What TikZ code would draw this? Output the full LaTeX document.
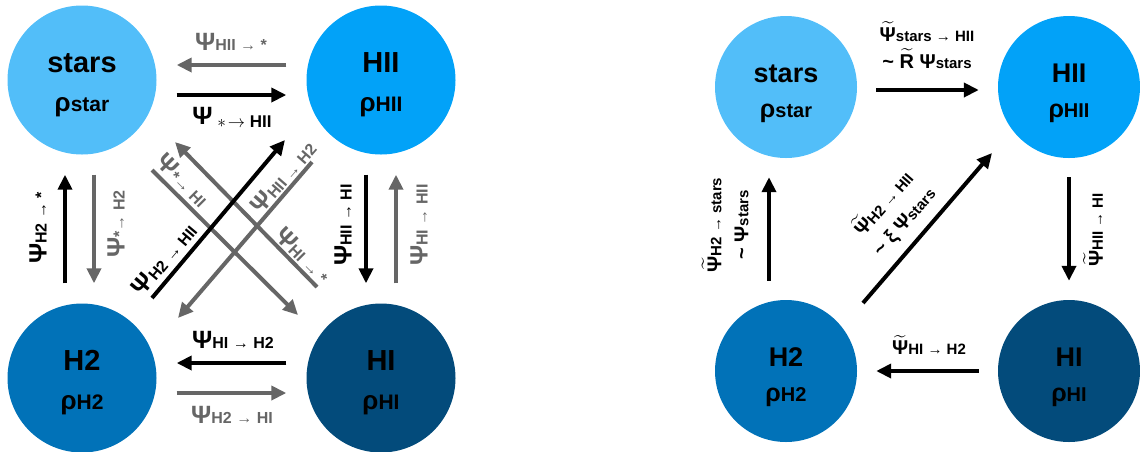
\documentclass[tikz,border=0pt]{standalone}
\usepackage{fontspec}
\usepackage{amsmath}
\setmainfont{Liberation Sans}
\usetikzlibrary{arrows.meta}

\definecolor{starblue}{HTML}{52BEF9}
\definecolor{hiiblue}{HTML}{02A2F8}
\definecolor{htwoblue}{HTML}{0172B8}
\definecolor{hiblue}{HTML}{034B7B}
\definecolor{flowgray}{HTML}{666666}

\newcommand{\fs}[1]{\fontsize{#1}{#1}\selectfont}
\newcommand{\sub}[1]{{\fs{16}#1}}
\newcommand{\subr}[1]{{\fs{15}#1}}
\newcommand{\dens}[1]{{\fs{26}ρ}{\fs{21}#1}}
\newcommand{\densr}[1]{{\fs{25}ρ}{\fs{20}#1}}
\newcommand{\tpsi}{$\widetilde{\mbox{Ψ}}$}
\newcommand{\tR}{$\widetilde{\mbox{R}}$}

\tikzset{
  pool/.style={circle, inner sep=0pt, minimum size=149pt, align=center,
    font=\fontsize{29}{39}\selectfont\bfseries},
  poolr/.style={pool, minimum size=142pt, font=\fontsize{27}{35}\selectfont\bfseries},
  flow/.style={line width=4pt, -{Triangle[length=15pt,width=14pt]}},
  gap/.style={shorten <=20pt, shorten >=20pt},
  gapr/.style={shorten <=19pt, shorten >=19pt},
  lab/.style={inner sep=0pt, font=\fs{25}\bfseries},
  labr/.style={inner sep=0pt, align=center, font=\fontsize{20}{27}\selectfont\bfseries},
}

\begin{document}
\begin{tikzpicture}[x=1pt, y=-1pt]
    \useasboundingbox (0,0) rectangle (1140,451);

    % left: all exchanges
    \node[pool, fill=starblue] (stars) at (82,80) {\rule{0pt}{30pt}stars\\\dens{star}};
    \node[pool, fill=hiiblue] (hii) at (381,80) {\rule{0pt}{30pt}HII\\\dens{HII}};
    \node[pool, fill=htwoblue] (h2) at (82,378) {\rule{0pt}{30pt}H2\\\dens{H2}};
    \node[pool, fill=hiblue] (hi) at (381,378) {\rule{0pt}{30pt}HI\\\dens{HI}};

    \draw[flow, gap, flowgray] ([yshift=15pt]hii.west) -- ([yshift=15pt]stars.east);
    \draw[flow, gap] ([yshift=-15pt]stars.east) -- ([yshift=-15pt]hii.west);
    \draw[flow, gap] ([yshift=15pt]hi.west) -- ([yshift=15pt]h2.east);
    \draw[flow, gap, flowgray] ([yshift=-15pt]h2.east) -- ([yshift=-15pt]hi.west);
    \draw[flow, gap] ([xshift=-17pt]h2.north) -- ([xshift=-17pt]stars.south);
    \draw[flow, gap, flowgray] ([xshift=12pt]stars.south) -- ([xshift=12pt]h2.north);
    \draw[flow, gap] ([xshift=-15pt]hii.south) -- ([xshift=-15pt]hi.north);
    \draw[flow, gap, flowgray] ([xshift=15pt]hi.north) -- ([xshift=15pt]hii.south);

    \draw[flow, flowgray] ([shift={(-69,82)}]hii.center) -- ([shift={(96,-60)}]h2.center);
    \draw[flow, flowgray] ([shift={(70,90)}]stars.center) -- ([shift={(-83,-63)}]hi.center);
    \draw[flow, flowgray] ([shift={(-64,-91)}]hi.center) -- ([shift={(93,62)}]stars.center);
    \draw[flow] ([shift={(70,-80)}]h2.center) -- ([shift={(-96,60)}]hii.center);

    \node[lab, flowgray] (tHIIs) at (231,42) {Ψ\sub{HII → *}};
    \node[lab] (tsHII) at (232,117) {Ψ\raisebox{-3pt}{\fs{17} $\ast\!\rightarrow$ HII}};
    \node[lab] (tHIH2) at (233,340) {Ψ\sub{HI → H2}};
    \node[lab, flowgray] (tH2HI) at (232,415) {Ψ\sub{H2 → HI}};
    \node[lab, rotate=90] (tH2s) at (38,228) {Ψ\sub{H2 → *}};
    \node[lab, flowgray, rotate=90] (tsH2) at (116,224) {Ψ\sub{*→ H2}};
    \node[lab, rotate=90] (tHIIHI) at (343,225) {Ψ\sub{HII → HI}};
    \node[lab, flowgray, rotate=90] (tHIHII) at (419,225) {Ψ\sub{HI → HII}};
    \node[lab, rotate=50] (tH2HII) at (164,259) {Ψ\sub{H2 → HII}};
    \node[lab, flowgray, rotate=49] (tHIIH2) at (283,177) {Ψ\sub{HII → H2}};
    \node[lab, flowgray, rotate=-45] (tsHI) at (183,180) {Ψ\sub{*→ HI}};
    \node[lab, flowgray, rotate=-45] (tHIs) at (303,255) {Ψ\sub{HI → *}};

    % right: dominant exchanges
    \node[poolr, fill=starblue] (starsr) at (786,87) {\rule{0pt}{32pt}stars\\\densr{star}};
    \node[poolr, fill=hiiblue] (hiir) at (1069,87) {\rule{0pt}{32pt}HII\\\densr{HII}};
    \node[poolr, fill=htwoblue] (h2r) at (786,371) {\rule{0pt}{32pt}H2\\\densr{H2}};
    \node[poolr, fill=hiblue] (hir) at (1069,371) {\rule{0pt}{32pt}HI\\\densr{HI}};

    \draw[flow, gapr] ([yshift=-3pt]starsr.east) -- ([yshift=-3pt]hiir.west);
    \draw[flow, gapr] (hiir.south) -- (hir.north);
    \draw[flow, gapr] (hir.west) -- (h2r.east);
    \draw[flow, gapr] ([xshift=-17pt]h2r.north) -- ([xshift=-17pt]starsr.south);
    \draw[flow] ([shift={(77,-68)}]h2r.center) -- ([shift={(-77,66)}]hiir.center);

    \node[labr] (tsHIIr) at (927,45) {\tpsi\subr{stars → HII}\\\textasciitilde{} \tR\ Ψ\subr{stars}};
    \node[labr] (tHIH2r) at (929,345) {\tpsi\subr{HI → H2}};
    \node[labr, rotate=90] (tHIIHIr) at (1093,230) {\tpsi\subr{HII → HI}};
    \node[labr, rotate=90] (tH2sr) at (725,225) {\tpsi\subr{H2 → stars}\\\textasciitilde{} Ψ\subr{stars}};
    \node[labr, rotate=49] (tH2HIIr) at (893,212) {\tpsi\subr{H2 → HII}\\\textasciitilde{} ξ Ψ\subr{stars}};

\end{tikzpicture}
\end{document}
